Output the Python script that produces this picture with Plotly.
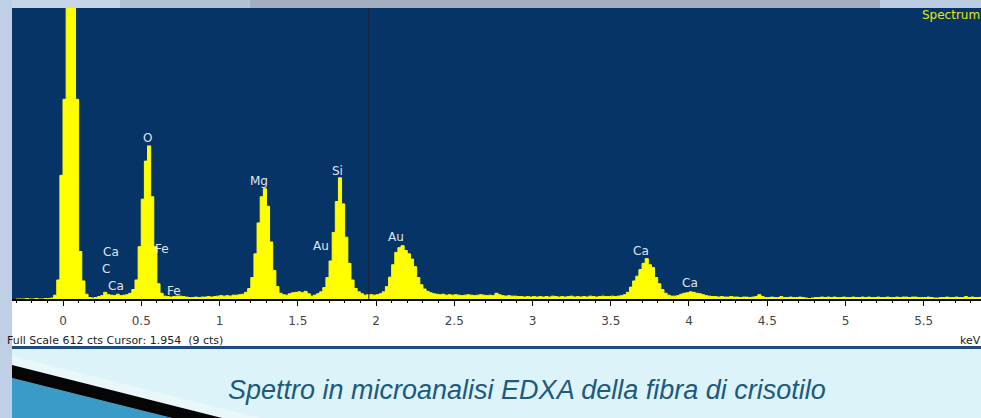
import numpy as np
import plotly.graph_objects as go

# EDXA spectrum: counts per 20 eV channel, first channel at -0.30 keV
CHANNEL_START = -0.30
CHANNEL_WIDTH = 0.02
counts = [
    0, 0, 0, 1, 0, 0, 1, 0, 0, 1,                      # -0.30
    1, 2, 8, 40, 260, 420, 2000, 2000, 2000, 420,      # -0.10
    100, 38, 10, 3, 2, 3, 5, 7, 14, 9,                 # 0.10
    8, 7, 10, 7, 8, 9, 12, 20, 40, 110,                # 0.30
    210, 290, 322, 215, 110, 32, 12, 6, 5, 4,          # 0.50
    5, 6, 6, 5, 4, 3, 3, 4, 3, 4,                      # 0.70
    4, 5, 4, 5, 6, 7, 6, 7, 6, 8,                      # 0.90
    8, 9, 10, 14, 22, 45, 95, 160, 215, 232,           # 1.10
    195, 120, 60, 26, 12, 9, 8, 11, 13, 14,            # 1.30
    15, 13, 16, 11, 6, 8, 11, 15, 24, 45,              # 1.50
    80, 140, 205, 255, 200, 130, 75, 40, 22, 15,       # 1.70
    11, 8, 9, 9, 8, 9, 11, 15, 26, 46,                 # 1.90
    72, 98, 108, 112, 102, 95, 84, 68, 45, 30,         # 2.10
    21, 16, 13, 11, 10, 9, 10, 8, 9, 8,                # 2.30
    9, 8, 7, 8, 9, 8, 7, 8, 9, 8,                      # 2.50
    7, 8, 7, 12, 9, 7, 6, 7, 6, 6,                     # 2.70
    5, 5, 4, 5, 4, 5, 4, 5, 4, 5,                      # 2.90
    4, 6, 5, 4, 5, 4, 5, 6, 4, 5,                      # 3.10
    4, 5, 4, 6, 5, 4, 5, 6, 5, 5,                      # 3.30
    6, 5, 6, 7, 9, 14, 25, 38, 48, 62,                 # 3.50
    75, 85, 72, 66, 45, 32, 20, 12, 8, 6,              # 3.70
    6, 7, 10, 12, 13, 15, 14, 12, 11, 9,               # 3.90
    7, 6, 5, 5, 4, 5, 4, 4, 5, 4,                      # 4.10
    4, 3, 4, 4, 3, 4, 5, 9, 5, 3,                      # 4.30
    3, 4, 3, 3, 5, 3, 3, 4, 3, 3,                      # 4.50
    4, 3, 2, 1, 2, 3, 3, 4, 3, 4,                      # 4.70
    3, 4, 3, 3, 4, 3, 3, 4, 3, 3,                      # 4.90
    4, 3, 4, 3, 3, 4, 3, 3, 4, 3,                      # 5.10
    3, 4, 3, 4, 4, 3, 4, 4, 3, 3,                      # 5.30
    3, 4, 3, 2, 2, 3, 3, 4, 3, 3,                      # 5.50
    4, 3, 3, 5, 3, 4, 3, 3, 4, 3,                      # 5.70
    3,                                                 # 5.90
]
energy_kev = np.round(CHANNEL_START + CHANNEL_WIDTH * np.arange(len(counts)), 2)

FULL_SCALE = 612
CURSOR_KEV = 1.954
CURSOR_CTS = 9

# Element identifications (label, energy keV, label height in counts)
peak_labels = ["O", "Mg", "Si", "Au", "Au", "Ca", "Ca", "Ca", "C", "Ca", "Fe", "Fe"]
peak_label_kev = [0.538, 1.252, 1.751, 1.648, 2.128, 3.693, 4.006, 0.307, 0.275, 0.339, 0.633, 0.710]
peak_label_cts = [339, 248, 269, 111, 130, 101, 34, 99, 63, 27, 105, 17]

W, H = 981, 418
L, R, T, B = 12, 0, 8, 119
PW, PH = W - L - R, H - T - B


def px(x):
    return (x - L) / PW


def py(y):
    return (H - B - y) / PH


NAVY = "#073467"
YELLOW = "#ffff00"

fig = go.Figure()
fig.add_trace(go.Scatter(
    x=energy_kev, y=counts, mode="lines",
    line=dict(shape="hv", color=YELLOW, width=1),
    fill="tozeroy", fillcolor=YELLOW, hoverinfo="skip", showlegend=False,
))

for lab, ex, ey in zip(peak_labels, peak_label_kev, peak_label_cts):
    fig.add_annotation(x=ex, y=ey, text=lab, showarrow=False,
                       font=dict(family="DejaVu Sans", size=12, color="#dfe5ee"),
                       xanchor="center", yanchor="middle")

shapes = []
# slide frame strips
shapes.append(dict(type="rect", xref="paper", yref="paper", x0=px(0), x1=px(12), y0=py(418), y1=py(0),
                   fillcolor="#bfcfe5", line_width=0, layer="below"))
for x0, x1, c in [(12, 120, "#c6d4e8"), (120, 250, "#b4c1d4"), (250, 880, "#a3afc1"), (880, 981, "#bccce2")]:
    shapes.append(dict(type="rect", xref="paper", yref="paper", x0=px(x0), x1=px(x1), y0=py(8), y1=py(0),
                       fillcolor=c, line_width=0, layer="below"))
# white status strip under the spectrum and its rule
shapes.append(dict(type="rect", xref="paper", yref="paper", x0=px(12), x1=px(981), y0=py(346), y1=py(299),
                   fillcolor="white", line_width=0, layer="below"))
shapes.append(dict(type="rect", xref="paper", yref="paper", x0=px(12), x1=px(981), y0=py(349), y1=py(346),
                   fillcolor="#1f4a7c", line_width=0, layer="below"))
# corner decoration of the slide
shapes.append(dict(type="path", xref="paper", yref="paper",
                   path=f"M {px(12)},{py(356)} L {px(260)},{py(418)} L {px(222)},{py(418)} L {px(12)},{py(365)} Z",
                   fillcolor="#e9f7fb", line_width=0, layer="below"))
shapes.append(dict(type="path", xref="paper", yref="paper",
                   path=f"M {px(12)},{py(378)} L {px(172)},{py(418)} L {px(12)},{py(418)} Z",
                   fillcolor="#3a9cc6", line_width=0, layer="below"))
shapes.append(dict(type="path", xref="paper", yref="paper",
                   path=f"M {px(12)},{py(365)} L {px(222)},{py(418)} L {px(172)},{py(418)} L {px(12)},{py(378)} Z",
                   fillcolor="#050505", line_width=0, layer="below"))
# cursor
shapes.append(dict(type="line", xref="x", yref="y", x0=CURSOR_KEV, x1=CURSOR_KEV, y0=0, y1=FULL_SCALE,
                   line=dict(color="#15243a", width=1), layer="above"))

fig.update_layout(
    width=W, height=H,
    margin=dict(l=L, r=R, t=T, b=B, pad=0),
    paper_bgcolor="#dcf3f9", plot_bgcolor=NAVY,
    shapes=shapes, showlegend=False,
    xaxis=dict(range=[-0.326, 5.866], tick0=0, dtick=0.5, showgrid=False, zeroline=False,
               showline=True, linecolor="black", linewidth=2,
               ticks="outside", ticklen=5, tickwidth=1, tickcolor="black",
               ticklabelstandoff=5,
               minor=dict(dtick=0.1, ticks="outside", ticklen=2, tickcolor="black", showgrid=False),
               tickfont=dict(family="DejaVu Sans", size=12, color="#444444"), fixedrange=True),
    yaxis=dict(range=[0, FULL_SCALE], visible=False, fixedrange=True),
)

fig.add_annotation(xref="paper", yref="paper", x=px(920), y=py(15), xanchor="left", yanchor="middle",
                   text="Spectrum", showarrow=False,
                   font=dict(family="DejaVu Sans", size=12, color="#e8e800"))
fig.add_annotation(xref="paper", yref="paper", x=px(5), y=py(340), xanchor="left", yanchor="middle",
                   text=f"Full Scale {FULL_SCALE} cts Cursor: {CURSOR_KEV}  ({CURSOR_CTS} cts)", showarrow=False,
                   font=dict(family="DejaVu Sans", size=11, color="#222222"))
fig.add_annotation(xref="paper", yref="paper", x=px(958), y=py(340), xanchor="left", yanchor="middle",
                   text="keV", showarrow=False,
                   font=dict(family="DejaVu Sans", size=11, color="#222222"))
fig.add_annotation(xref="paper", yref="paper", x=px(527), y=py(390), xanchor="center", yanchor="middle",
                   text="<i>Spettro in microanalisi EDXA della fibra di crisotilo</i>", showarrow=False,
                   font=dict(family="Liberation Sans", size=27, color="#1d5a7d"))

fig.write_html("out.html", config={"displayModeBar": False})
